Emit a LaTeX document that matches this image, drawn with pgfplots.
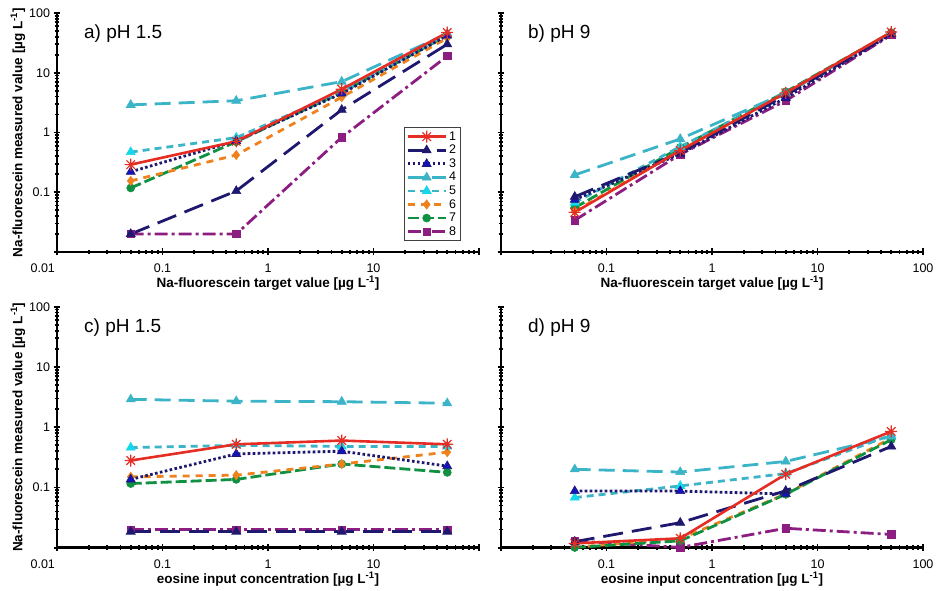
\documentclass[border=0pt]{standalone}
\usepackage{pgfplots}
\usepackage{pgfplotstable}
\pgfplotsset{compat=1.18}
\usepackage{fontspec}
\setmainfont{Liberation Sans}

\definecolor{c1}{RGB}{230,45,35}
\definecolor{navy}{RGB}{30,25,110}
\definecolor{blue3}{RGB}{20,20,190}
\definecolor{teal4}{RGB}{60,180,200}
\definecolor{cyan5}{RGB}{20,215,235}
\definecolor{orange6}{RGB}{240,130,30}
\definecolor{green7}{RGB}{15,145,65}
\definecolor{purple8}{RGB}{140,30,130}

\pgfdeclareplotmark{ast8}{%
  \pgfpathmoveto{\pgfqpoint{-\pgfplotmarksize}{0pt}}%
  \pgfpathlineto{\pgfqpoint{\pgfplotmarksize}{0pt}}%
  \pgfpathmoveto{\pgfqpoint{0pt}{-\pgfplotmarksize}}%
  \pgfpathlineto{\pgfqpoint{0pt}{\pgfplotmarksize}}%
  \pgfpathmoveto{\pgfqpoint{-0.707\pgfplotmarksize}{-0.707\pgfplotmarksize}}%
  \pgfpathlineto{\pgfqpoint{0.707\pgfplotmarksize}{0.707\pgfplotmarksize}}%
  \pgfpathmoveto{\pgfqpoint{-0.707\pgfplotmarksize}{0.707\pgfplotmarksize}}%
  \pgfpathlineto{\pgfqpoint{0.707\pgfplotmarksize}{-0.707\pgfplotmarksize}}%
  \pgfusepathqstroke}

\tikzset{
  sA/.style={c1, solid, line width=2.6pt, mark=ast8, mark size=6pt, mark options={solid, line width=1.2pt}},
  sB/.style={navy, line width=2.8pt, dash pattern=on 20pt off 9pt, mark=triangle*, mark size=5.2pt, mark options={solid, line width=0.6pt, fill=navy}},
  sC/.style={navy, line width=2.8pt, dash pattern=on 2.6pt off 2.4pt, mark=triangle*, mark size=5.2pt, mark options={solid, line width=0.6pt, draw=navy, fill=blue3}},
  sD/.style={teal4, line width=2.8pt, dash pattern=on 16pt off 8pt, mark=triangle*, mark size=5.2pt, mark options={solid, line width=0.6pt, fill=teal4}},
  sE/.style={teal4, line width=2.8pt, dash pattern=on 7pt off 5pt, mark=triangle*, mark size=5.2pt, mark options={solid, line width=0.6pt, draw=cyan5, fill=cyan5}},
  sF/.style={orange6, line width=2.8pt, dash pattern=on 7pt off 6pt, mark=diamond*, mark size=4.6pt, mark options={solid, line width=0.6pt, fill=orange6}},
  sG/.style={green7, line width=2.8pt, dash pattern=on 11pt off 4pt, mark=*, mark size=4pt, mark options={solid, line width=0.6pt, fill=green7}},
  sH/.style={purple8, line width=2.8pt, dash pattern=on 13pt off 4pt on 3pt off 4pt, mark=square*, mark size=3.7pt, mark options={solid, line width=0.6pt, fill=purple8}},
}

\pgfplotsset{
  xmin=0.01, xmax=100, ymin=0.01, ymax=100,
  scale only axis, width=422pt,
  axis x line*=bottom, axis y line*=left,
  axis line style={-, line width=2.8pt, black},
  xtick={0.01,0.1,1,10,100}, ytick={0.01,0.1,1,10,100},
  minor xtick={0.02,0.03,0.04,0.05,0.06,0.07,0.08,0.09,0.2,0.3,0.4,0.5,0.6,0.7,0.8,0.9,2,3,4,5,6,7,8,9,20,30,40,50,60,70,80,90},
  minor ytick={0.02,0.03,0.04,0.05,0.06,0.07,0.08,0.09,0.2,0.3,0.4,0.5,0.6,0.7,0.8,0.9,2,3,4,5,6,7,8,9,20,30,40,50,60,70,80,90},
  tick align=center, major tick length=7pt, minor tick length=4.5pt,
  tick style={black, line width=1.8pt},
  tick label style={font=\fontsize{12.5}{14}\selectfont},
  xticklabel style={yshift=-5pt},
  label style={font=\bfseries\fontsize{13.5}{15}\selectfont},
  xlabel style={at={(axis description cs:0.5,-0.13)}, anchor=center},
  ylabel style={at={(axis description cs:-0.0924,0.5)}, anchor=center},
  clip=false,
  legend image code/.code={\draw[mark repeat=2,mark phase=2] plot coordinates {(0pt,0pt) (19pt,0pt) (38pt,0pt)};},
}

\newcommand{\ttl}[1]{\node[anchor=west, font=\fontsize{19}{22}\selectfont] at (rel axis cs:0.056,0.912) {#1};}

\pgfplotstableread{
x s1 s2 s3 s4 s5 s6 s7 s8
0.05 0.29 0.02 0.22 2.9 0.47 0.155 0.118 0.02
0.5 0.71 0.105 0.72 3.4 0.82 0.42 0.70 0.02
5 5.3 2.4 4.5 7.1 4.8 3.9 4.7 0.83
50 47 30 42 45 44 38 42 19
}\tA

\pgfplotstableread{
x s1 s2 s3 s4 s5 s6 s7 s8
0.05 0.046 0.084 0.075 0.195 0.067 0.048 0.055 0.034
0.5 0.50 0.46 0.44 0.78 0.58 0.50 0.56 0.43
5 4.6 4.2 3.8 4.6 4.5 4.5 4.8 3.4
50 48 45 44 46 46 46 47 43
}\tB

\pgfplotstableread{
x s1 s2 s3 s4 s5 s6 s7 s8
0.05 0.28 0.0185 0.136 2.9 0.46 0.15 0.116 0.020
0.5 0.52 0.0185 0.36 2.7 0.50 0.16 0.136 0.020
5 0.60 0.0185 0.40 2.65 0.48 0.245 0.245 0.020
50 0.52 0.0185 0.226 2.5 0.48 0.385 0.178 0.020
}\tC

\pgfplotstableread{
x s1 s2 s3 s4 s5 s6 s7 s8
0.05 0.0118 0.0126 0.087 0.20 0.068 0.0102 0.0101 0.013
0.5 0.0143 0.026 0.087 0.18 0.106 0.014 0.013 0.0101
5 0.166 0.088 0.078 0.27 0.17 0.078 0.077 0.021
50 0.85 0.48 nan 0.70 0.74 0.66 0.62 0.0166
}\tD

\begin{document}
\begin{tikzpicture}[x=1pt,y=1pt]
\useasboundingbox (0,0) rectangle (938,591);

% panel a
\begin{loglogaxis}[at={(57pt,339pt)}, anchor=south west, height=239pt,
  yticklabels={{},0.1,1,10,100}, xticklabels={\makebox[0pt][r]{0.01\,},0.1,1,10,{}},
  xlabel={Na-fluorescein target value [µg L\textsuperscript{-1}]},
  ylabel={Na-fluorescein measured value [µg L\textsuperscript{-1}]},
  reverse legend,
  legend style={at={(rel axis cs:0.822,0.522)}, anchor=north west, draw=black!75, line width=0.8pt,
    font=\fontsize{12.5}{13}\selectfont, row sep=-0.6pt, inner sep=2pt, cells={anchor=west}},
  ]
\addplot[sH] table[x=x,y=s8]{\tA}; \addlegendentry{8}
\addplot[sG] table[x=x,y=s7]{\tA}; \addlegendentry{7}
\addplot[sF] table[x=x,y=s6]{\tA}; \addlegendentry{6}
\addplot[sE] table[x=x,y=s5]{\tA}; \addlegendentry{5}
\addplot[sD] table[x=x,y=s4]{\tA}; \addlegendentry{4}
\addplot[sC] table[x=x,y=s3]{\tA}; \addlegendentry{3}
\addplot[sB] table[x=x,y=s2]{\tA}; \addlegendentry{2}
\addplot[sA] table[x=x,y=s1]{\tA}; \addlegendentry{1}
\ttl{a) pH 1.5}
\end{loglogaxis}

% panel b
\begin{loglogaxis}[at={(501pt,339pt)}, anchor=south west, height=239pt,
  yticklabels={}, xticklabels={{},0.1,1,10,100},
  xlabel={Na-fluorescein target value [µg L\textsuperscript{-1}]}]
\addplot[sH] table[x=x,y=s8]{\tB};
\addplot[sG] table[x=x,y=s7]{\tB};
\addplot[sF] table[x=x,y=s6]{\tB};
\addplot[sE] table[x=x,y=s5]{\tB};
\addplot[sD] table[x=x,y=s4]{\tB};
\addplot[sC] table[x=x,y=s3]{\tB};
\addplot[sB] table[x=x,y=s2]{\tB};
\addplot[sA] table[x=x,y=s1]{\tB};
\ttl{b) pH 9}
\end{loglogaxis}

% panel c
\begin{loglogaxis}[at={(57pt,43.3pt)}, anchor=south west, height=241pt,
  yticklabels={{},0.1,1,10,100}, xticklabels={\makebox[0pt][r]{0.01\,},0.1,1,10,{}},
  xlabel={eosine input concentration [µg L\textsuperscript{-1}]},
  ylabel={Na-fluorescein measured value [µg L\textsuperscript{-1}]}]
\addplot[sH] table[x=x,y=s8]{\tC};
\addplot[sG] table[x=x,y=s7]{\tC};
\addplot[sF] table[x=x,y=s6]{\tC};
\addplot[sE] table[x=x,y=s5]{\tC};
\addplot[sD] table[x=x,y=s4]{\tC};
\addplot[sC] table[x=x,y=s3]{\tC};
\addplot[sB] table[x=x,y=s2]{\tC};
\addplot[sA] table[x=x,y=s1]{\tC};
\ttl{c) pH 1.5}
\end{loglogaxis}

% panel d
\begin{loglogaxis}[at={(501pt,43.3pt)}, anchor=south west, height=241pt,
  unbounded coords=jump,
  yticklabels={}, xticklabels={{},0.1,1,10,100},
  xlabel={eosine input concentration [µg L\textsuperscript{-1}]}]
\addplot[sH] table[x=x,y=s8]{\tD};
\addplot[sF] table[x=x,y=s6]{\tD};
\addplot[sG] table[x=x,y=s7]{\tD};
\addplot[sE] table[x=x,y=s5]{\tD};
\addplot[sD] table[x=x,y=s4]{\tD};
\addplot[sC] table[x=x,y=s3]{\tD};
\addplot[sB] table[x=x,y=s2]{\tD};
\addplot[sA] table[x=x,y=s1]{\tD};
\ttl{d) pH 9}
\end{loglogaxis}
\end{tikzpicture}
\end{document}
